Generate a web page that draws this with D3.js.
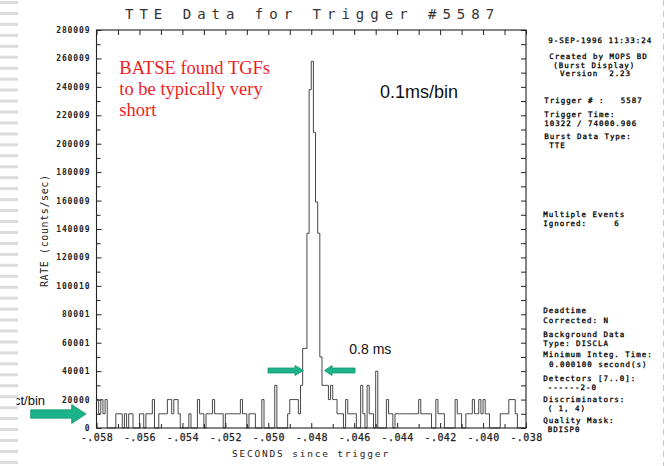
<!DOCTYPE html>
<html><head><meta charset="utf-8">
<script src="https://cdn.jsdelivr.net/npm/d3@7"></script>
<style>html,body{margin:0;padding:0;background:#fff;overflow:hidden}</style>
</head><body>
<svg id="chart" width="665" height="466"></svg>
<script>
// ---------- data ----------
const chartTitle = "TTE Data for Trigger #5587";
const xAxisTitle = "SECONDS since trigger";
const yAxisTitle = "RATE (counts/sec)";
const binStart = -0.058;      // seconds
const binWidth = 0.0001;      // 0.1 ms per bin
// rate per bin (counts/sec)
const rates = [
  20000,10000,20000,10000,20000,0,0,0,0,10000,
  10000,10000,0,10000,0,10000,10000,0,0,0,
  10000,10000,0,10000,10000,10000,20000,0,0,10000,
  10000,10000,10000,20000,20000,10000,20000,20000,10000,0,
  0,0,0,10000,0,0,0,20000,10000,10000,
  0,10000,10000,10000,20000,10000,10000,10000,10000,0,
  10000,10000,10000,10000,10000,10000,10000,20000,10000,10000,
  0,10000,10000,10000,0,0,0,20000,0,0,
  0,0,0,30000,0,0,0,0,0,10000,
  20000,20000,20000,20000,10000,30000,56000,56000,137000,238000,
  258000,208000,159000,137000,50000,30000,30000,30000,20000,30000,
  20000,20000,10000,10000,10000,0,20000,10000,10000,10000,
  10000,0,0,30000,10000,0,30000,10000,10000,0,
  40000,0,0,0,0,20000,10000,10000,0,10000,
  10000,10000,10000,10000,10000,10000,10000,10000,10000,10000,
  20000,10000,10000,10000,10000,10000,0,0,20000,10000,
  10000,10000,0,0,0,0,0,20000,10000,10000,
  0,0,10000,10000,10000,20000,10000,10000,20000,10000,
  20000,10000,10000,0,0,0,0,0,10000,10000,
  10000,10000,20000,20000,20000,10000,0,0,0,0
];
const yTickValues = [0,20000,40000,60000,80000,100000,120000,140000,160000,180000,200000,220000,240000,260000,280000];
const yTickLabels = ["0","20000","40001","60001","80001","100010","120009","140009","160009","180009","200009","220009","240009","260009","280009"];
const yMinorTicks = [10000,30000,50000,70000,90000,110000,130000,150000,170000,190000,210000,230000,250000,270000];
const xTickValues = [-0.058,-0.056,-0.054,-0.052,-0.050,-0.048,-0.046,-0.044,-0.042,-0.040,-0.038];
const xTickLabels = ["-.058","-.056","-.054","-.052","-.050","-.048","-.046","-.044","-.042","-.040","-.038"];
const xMinorTicks = [-0.057,-0.055,-0.053,-0.051,-0.049,-0.047,-0.045,-0.043,-0.041,-0.039];
const infoLines = [
  "9-SEP-1996 11:33:24","Created by MOPS BD","(Burst Display)","Version  2.23",
  "Trigger # :   5587","Trigger Time:","10322 / 74000.906","Burst Data Type:","TTE",
  "Multiple Events","Ignored:     6",
  "Deadtime","Corrected: N","Background Data","Type: DISCLA",
  "Minimum Integ. Time:","0.000100 second(s)","Detectors [7..0]:","------2-0",
  "Discriminators:","( 1, 4)","Quality Mask:","BDISP0"
];
const noteLines = ["BATSE found TGFs","to be typically very","short"];
const binNote = "0.1ms/bin";
const widthNote = "0.8 ms";
const countNote = "ct/bin";

// ---------- layout ----------
const W = 665, H = 466;
const plot = {left: 96.5, right: 526, top: 30, bottom: 428};
const infoX = [548.3,549.3,553.3,560,544.3,544.3,544.3,544.3,549.3,
  543.3,543.3,543.3,543.3,543.3,543.3,543.3,549,543.3,547.7,543.3,547.7,543.3,547.7];
const infoY = [42.5,59,67.5,76,102.5,116.5,125.5,139,148,
  216.7,226,313.3,322.7,336.7,345.7,357.3,366.7,381,389.5,402.3,411,422.7,431.7];
const mono = "'DejaVu Sans Mono', 'Liberation Mono', monospace";

const svg = d3.select("#chart");
svg.append("rect").attr("width", W).attr("height", H).attr("fill", "#fff");

const x = d3.scaleLinear()
  .domain([binStart, binStart + rates.length * binWidth])
  .range([plot.left, plot.right]);
const y = d3.scaleLinear().domain([0, 280000]).range([plot.bottom, plot.top]);

// histogram (step outline)
const pts = rates.map((r, i) => [binStart + i * binWidth, r]);
pts.push([binStart + rates.length * binWidth, 0]);
const line = d3.line().x(d => x(d[0])).y(d => y(d[1])).curve(d3.curveStepAfter);
svg.append("path").attr("d", line(pts))
  .attr("fill", "none").attr("stroke", "#333").attr("stroke-width", 0.9);

// axes
function styleAxis(g) {
  g.select(".domain").remove();
  g.selectAll(".tick line").attr("stroke", "#222").attr("stroke-width", 1);
}
const yMajor = svg.append("g").attr("transform", `translate(${plot.left},0)`)
  .call(d3.axisLeft(y).tickValues(yTickValues).tickSize(-5).tickPadding(6)
    .tickFormat((d, i) => yTickLabels[i]));
styleAxis(yMajor);
yMajor.selectAll("text").attr("font-family", mono).attr("font-size", 8)
  .attr("font-weight", "bold").attr("letter-spacing", 0.9).attr("fill", "#222");
const yMinor = svg.append("g").attr("transform", `translate(${plot.left},0)`)
  .call(d3.axisLeft(y).tickValues(yMinorTicks).tickSize(-4).tickFormat(""));
styleAxis(yMinor);
const yRight = svg.append("g").attr("transform", `translate(${plot.right},0)`)
  .call(d3.axisRight(y).tickValues(yTickValues.concat(yMinorTicks)).tickSize(-5).tickFormat(""));
styleAxis(yRight);

const xBottom = svg.append("g").attr("transform", `translate(0,${plot.bottom})`)
  .call(d3.axisBottom(x).tickValues(xTickValues).tickSize(-5).tickPadding(6)
    .tickFormat((d, i) => xTickLabels[i]));
styleAxis(xBottom);
xBottom.selectAll("text").attr("font-family", mono).attr("font-size", 10)
  .attr("letter-spacing", 0.4).attr("fill", "#222")
  .attr("stroke", "#222").attr("stroke-width", 0.25);
const xBottomMinor = svg.append("g").attr("transform", `translate(0,${plot.bottom})`)
  .call(d3.axisBottom(x).tickValues(xMinorTicks).tickSize(-4).tickFormat(""));
styleAxis(xBottomMinor);
const xTop = svg.append("g").attr("transform", `translate(0,${plot.top})`)
  .call(d3.axisTop(x).tickValues(xTickValues.concat(xMinorTicks)).tickSize(-5).tickFormat(""));
styleAxis(xTop);

// frame
svg.append("rect").attr("x", plot.left).attr("y", plot.top)
  .attr("width", plot.right - plot.left).attr("height", plot.bottom - plot.top)
  .attr("fill", "none").attr("stroke", "#222").attr("stroke-width", 1.1);

// titles
svg.append("text").attr("x", 125).attr("y", 19).text(chartTitle)
  .attr("font-family", mono).attr("font-size", 14).attr("letter-spacing", 6.0).attr("fill", "#333");
svg.append("text").attr("x", 232).attr("y", 457).text(xAxisTitle)
  .attr("font-family", mono).attr("font-size", 9.5).attr("letter-spacing", 1.8).attr("fill", "#222");
svg.append("text").attr("transform", "translate(48,287) rotate(-90)").text(yAxisTitle)
  .attr("font-family", mono).attr("font-size", 10).attr("letter-spacing", 0.6).attr("fill", "#222");

// info panel
svg.append("g").selectAll("text").data(infoLines).join("text")
  .attr("x", (d, i) => infoX[i]).attr("y", (d, i) => infoY[i]).text(d => d)
  .attr("font-family", mono).attr("font-size", 7.5).attr("letter-spacing", 0.95)
  .attr("fill", "#000").attr("stroke", "#000").attr("stroke-width", 0.3)
  .attr("xml:space", "preserve").style("white-space", "pre");

// red note
svg.append("g").selectAll("text").data(noteLines).join("text")
  .attr("x", 119.3).attr("y", (d, i) => 74 + i * 21).text(d => d)
  .attr("font-family", "'Liberation Serif', 'Times New Roman', serif")
  .attr("font-size", 18.5).attr("fill", "#ee1d23");

svg.append("text").attr("x", 380).attr("y", 98).text(binNote)
  .attr("font-family", "'Liberation Sans', Arial, sans-serif").attr("font-size", 18).attr("fill", "#111");
svg.append("text").attr("x", 349.3).attr("y", 353.5).text(widthNote)
  .attr("font-family", "'Liberation Sans', Arial, sans-serif").attr("font-size", 14).attr("fill", "#111");
svg.append("text").attr("x", 45).attr("y", 405).attr("text-anchor", "end").text(countNote)
  .attr("font-family", "'Liberation Sans', Arial, sans-serif").attr("font-size", 13).attr("fill", "#111");

// green arrows (annotations)
function arrow(tipX, cy, tailX, headBaseX, bodyH, headH) {
  const p = d3.path();
  p.moveTo(tailX, cy - bodyH / 2);
  p.lineTo(headBaseX, cy - bodyH / 2);
  p.lineTo(headBaseX, cy - headH / 2);
  p.lineTo(tipX, cy);
  p.lineTo(headBaseX, cy + headH / 2);
  p.lineTo(headBaseX, cy + bodyH / 2);
  p.lineTo(tailX, cy + bodyH / 2);
  p.closePath();
  svg.append("path").attr("d", p.toString())
    .attr("fill", "#1bb38a").attr("stroke", "#13946f").attr("stroke-width", 0.8);
}
arrow(86, 414, 30.7, 71.7, 8.3, 19);
arrow(303.5, 370.5, 268, 295, 5, 10);
arrow(324.5, 370.5, 355, 332, 5, 10);

// slide background decoration: left stripes and right dashed edge
svg.append("rect").attr("x", 0).attr("y", 0).attr("width", 16.5).attr("height", H).attr("fill", "#fff");
svg.append("g").selectAll("rect").data(d3.range(43)).join("rect")
  .attr("x", 0).attr("y", d => 1 + d * 10.95).attr("width", 18).attr("height", 3)
  .attr("fill", "#dcdcdc");
svg.append("line").attr("x1", 663.5).attr("x2", 663.5).attr("y1", 0).attr("y2", H)
  .attr("stroke", "#c8c8c8").attr("stroke-width", 1).attr("stroke-dasharray", "6,5");
</script>
</body></html>
